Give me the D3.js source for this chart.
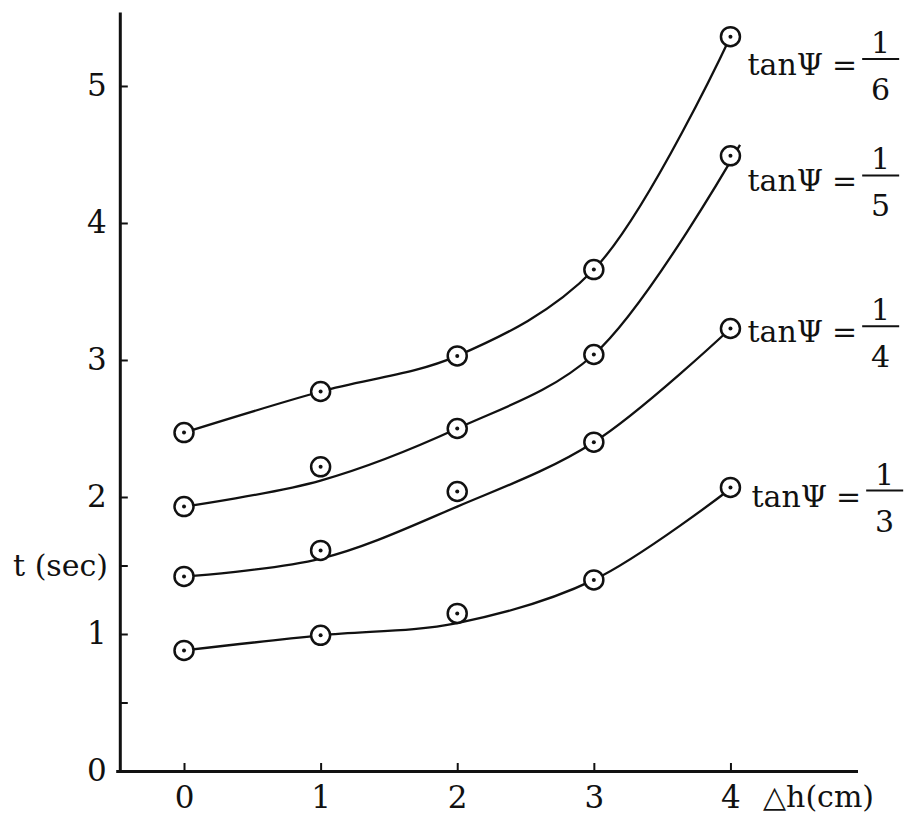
<!DOCTYPE html>
<html>
<head>
<meta charset="utf-8">
<script src="https://cdn.jsdelivr.net/npm/d3@7"></script>
<style>
  body { margin: 0; background: #fff; }
  text { font-family: "DejaVu Serif", "Liberation Serif", serif; fill: #111; }
</style>
</head>
<body>
<script>
// Δh (cm) on the x axis
var dh = [0, 1, 2, 3, 4];

// tanΨ of each curve, written as a fraction
var slopeNum = ["1", "1", "1", "1"];
var slopeDen = ["6", "5", "4", "3"];

// measured t (sec) points
var t6 = [2.47, 2.77, 3.03, 3.66, 5.36];
var t5 = [1.93, 2.22, 2.50, 3.04, 4.49];
var t4 = [1.42, 1.61, 2.04, 2.40, 3.23];
var t3 = [0.88, 0.99, 1.15, 1.395, 2.07];

// hand-drawn fitted curves [Δh, t]
var fit6 = [[0, 2.47], [1, 2.77], [2, 3.03], [3, 3.66], [4, 5.36]];
var fit5 = [[0, 1.93], [1, 2.12], [2, 2.50], [3, 3.04], [4.07, 4.57]];
var fit4 = [[0, 1.42], [1, 1.55], [2, 1.93], [3, 2.40], [4, 3.23]];
var fit3 = [[0, 0.88], [1, 0.99], [2, 1.08], [3, 1.395], [4, 2.06]];

// y ticks (half ticks carry no label)
var yTicks = [0, 0.5, 1, 1.5, 2, 3, 4, 5];

// where each tanΨ label sits (t value of its baseline)
var labelT = [5.08, 4.23, 3.13, 1.93];

var series = [t6, t5, t4, t3];
var fits = [fit6, fit5, fit4, fit3];

var width = 907, height = 814;

var svg = d3.select("body").append("svg")
    .attr("width", width)
    .attr("height", height);

var x = d3.scaleLinear().domain([-0.5, 4.93]).range([115.7, 857.5]);
var y = d3.scaleLinear().domain([0, 5.54]).range([771, 12]);

// y axis
var yAxis = d3.axisLeft(y)
    .tickValues(yTicks)
    .tickSizeInner(-8)
    .tickSizeOuter(0)
    .tickPadding(13)
    .tickFormat(function (d) { return d % 1 === 0 ? d : ""; });

svg.append("g")
    .attr("transform", "translate(" + x(-0.47) + ",0)")
    .call(yAxis);

// x axis
var xAxis = d3.axisBottom(x)
    .tickValues(dh)
    .tickSizeInner(-8)
    .tickSizeOuter(0)
    .tickPadding(15)
    .tickFormat(d3.format("d"));

svg.append("g")
    .attr("transform", "translate(0," + y(0) + ")")
    .call(xAxis);

svg.selectAll(".domain")
    .attr("stroke", "#111")
    .attr("stroke-width", 3);
svg.selectAll(".tick line")
    .attr("stroke", "#111")
    .attr("stroke-width", 2);
svg.selectAll(".tick text")
    .attr("font-size", 31)
    .attr("font-family", "DejaVu Serif")
    .attr("fill", "#111");

// axis titles
svg.append("text")
    .attr("x", 108)
    .attr("y", y(1.5))
    .attr("dy", "0.35em")
    .attr("text-anchor", "end")
    .attr("font-size", 30)
    .text("t (sec)");

svg.append("text")
    .attr("x", 763)
    .attr("y", 807)
    .attr("font-size", 30)
    .text("△h(cm)");

// curves
var line = d3.line()
    .x(function (d) { return x(d[0]); })
    .y(function (d) { return y(d[1]); })
    .curve(d3.curveCatmullRom.alpha(0.5));

svg.append("g").selectAll("path")
    .data(fits)
    .enter().append("path")
    .attr("d", line)
    .attr("fill", "none")
    .attr("stroke", "#111")
    .attr("stroke-width", 2.3);

// point markers: circle with a dot
series.forEach(function (vals) {
    var g = svg.append("g").selectAll("g")
        .data(vals)
        .enter().append("g")
        .attr("transform", function (d, i) {
            return "translate(" + x(dh[i]) + "," + y(d) + ")";
        });
    g.append("circle")
        .attr("r", 9.5)
        .attr("fill", "#fff")
        .attr("stroke", "#111")
        .attr("stroke-width", 2.5);
    g.append("circle")
        .attr("r", 2)
        .attr("fill", "#111");
});

// tanΨ = a/b labels
labelT.forEach(function (t, i) {
    var ax = x(4) + 17 + (i === 3 ? 4 : 0);
    var base = y(t);
    var lg = svg.append("g");
    var tn = lg.append("text")
        .attr("x", ax)
        .attr("y", base)
        .attr("font-size", 30)
        .text("tanΨ");
    var ex = ax + tn.node().getComputedTextLength() + 9;
    var eq = lg.append("text")
        .attr("x", ex)
        .attr("y", base)
        .attr("font-size", 30)
        .text("=");
    var bx = ex + eq.node().getComputedTextLength() + 5;
    var bw = 37;
    lg.append("line")
        .attr("x1", bx).attr("x2", bx + bw)
        .attr("y1", base - 16).attr("y2", base - 16)
        .attr("stroke", "#111")
        .attr("stroke-width", 2);
    lg.append("text")
        .attr("x", bx + bw / 2)
        .attr("y", base - 22)
        .attr("text-anchor", "middle")
        .attr("font-size", 30)
        .text(slopeNum[i]);
    lg.append("text")
        .attr("x", bx + bw / 2)
        .attr("y", base + 25)
        .attr("text-anchor", "middle")
        .attr("font-size", 30)
        .text(slopeDen[i]);
});
</script>
</body>
</html>
